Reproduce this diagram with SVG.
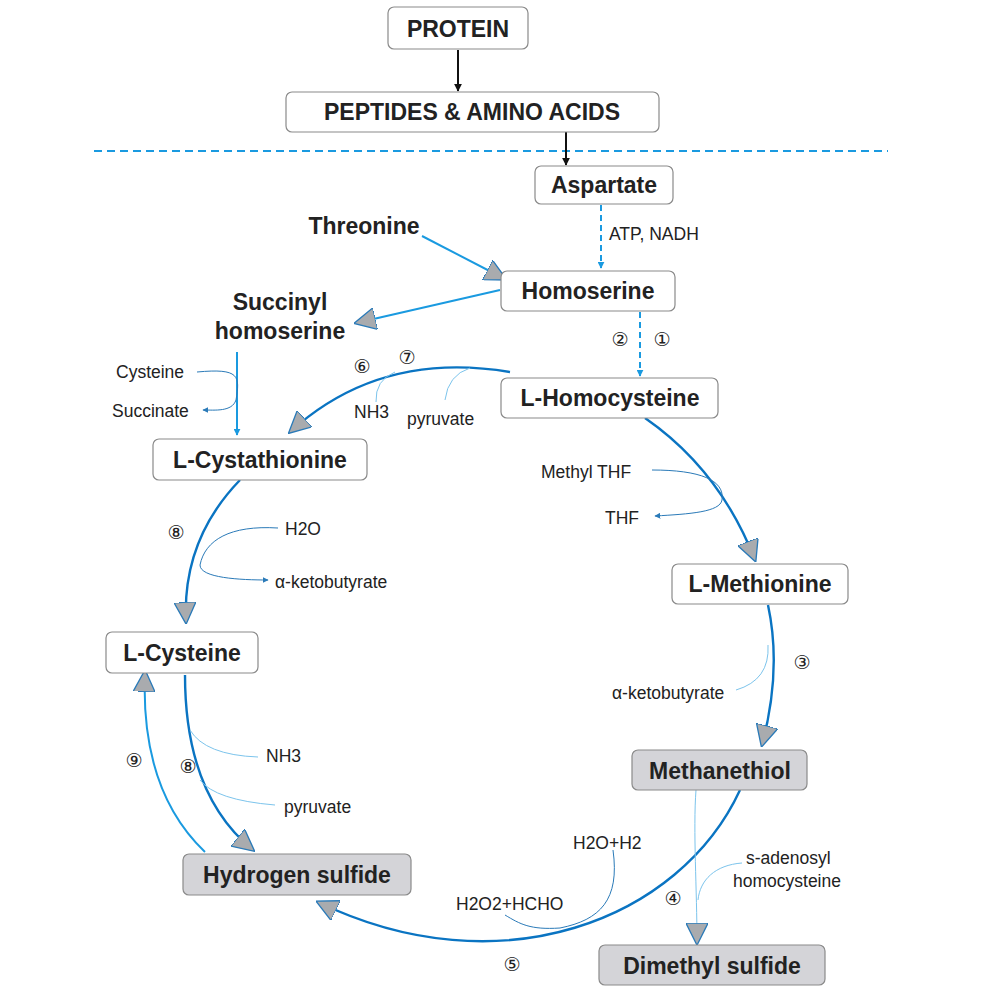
<svg xmlns="http://www.w3.org/2000/svg" width="1008" height="997" viewBox="0 0 1008 997">
<style>
.box{fill:#fff;stroke:#8a8a8a;stroke-width:1.2}
.gbox{fill:#d4d4d8;stroke:#8a8a8a;stroke-width:1.2}
.t{font-family:"Liberation Sans",Arial,sans-serif;font-weight:bold;font-size:23px;fill:#222;text-anchor:middle}
.s{font-family:"Liberation Sans",Arial,sans-serif;font-size:17.5px;fill:#222}
.n{font-family:"DejaVu Sans",sans-serif;font-size:19px;fill:#222;text-anchor:middle}
.main{fill:none;stroke:#0a74c2;stroke-width:2.4}
.lb{fill:none;stroke:#1a9ae0;stroke-width:2}
.thin{fill:none;stroke:#2a7ab8;stroke-width:1}
.thinl{fill:none;stroke:#7cc4ec;stroke-width:1}
</style>
<defs>
<marker id="tri" viewBox="0 0 10 10" refX="9" refY="5" markerWidth="22" markerHeight="22" markerUnits="userSpaceOnUse" orient="auto"><path d="M0,0 L10,5 L0,10 Z" fill="#a9abae" stroke="#2a7ab8" stroke-width="0.6"/></marker>
<marker id="blk" viewBox="0 0 10 10" refX="9" refY="5" markerWidth="8" markerHeight="8" markerUnits="userSpaceOnUse" orient="auto"><path d="M0,0 L10,5 L0,10 Z" fill="#111"/></marker>
<marker id="bl" viewBox="0 0 10 10" refX="9" refY="5" markerWidth="7" markerHeight="7" markerUnits="userSpaceOnUse" orient="auto"><path d="M0,0 L10,5 L0,10 Z" fill="#1a9ae0"/></marker>
<marker id="sm" viewBox="0 0 10 10" refX="9" refY="5" markerWidth="6" markerHeight="6" markerUnits="userSpaceOnUse" orient="auto"><path d="M0,0 L10,5 L0,10 Z" fill="#2a7ab8"/></marker>
</defs>
<g id="connectors">
<line x1="94" y1="151" x2="888" y2="151" stroke="#1a9ae0" stroke-width="2" stroke-dasharray="8,5"/>
<line x1="458" y1="50" x2="458" y2="91" stroke="#111" stroke-width="2" marker-end="url(#blk)"/>
<line x1="566" y1="132" x2="566" y2="165" stroke="#111" stroke-width="2" marker-end="url(#blk)"/>
<line x1="601" y1="205" x2="601" y2="268" stroke="#1a9ae0" stroke-width="2" stroke-dasharray="6,4" marker-end="url(#bl)"/>
<line x1="640" y1="312" x2="640" y2="376" stroke="#1a9ae0" stroke-width="2" stroke-dasharray="6,4" marker-end="url(#bl)"/>
<line x1="422" y1="236" x2="505" y2="279" class="lb" marker-end="url(#tri)"/>
<line x1="500" y1="290" x2="356" y2="323" class="lb" marker-end="url(#tri)"/>
<line x1="237" y1="352" x2="237" y2="435" class="lb" marker-end="url(#bl)"/>
<path d="M197 372 C240 368 240 376 236 400 C232 412 215 410 203 410" class="thin" marker-end="url(#sm)"/>
<path class="main" d="M510 372 Q380 350 290 432" marker-end="url(#tri)"/>
<path class="thinl" d="M376 402 Q375 380 395 372"/>
<path class="thinl" d="M445 400 Q448 375 470 368"/>
<path class="main" d="M645 418 Q720 470 755 560" marker-end="url(#tri)"/>
<path class="thin" d="M652 470 C700 470 725 480 722 500 C720 512 690 514 655 516" marker-end="url(#sm)"/>
<path class="main" d="M768 605 Q782 670 762 745" marker-end="url(#tri)"/>
<path class="thinl" d="M736 690 Q770 680 768 645"/>
<path class="main" d="M740 790 C680 920 500 990 318 902" marker-end="url(#tri)"/>
<path class="thin" d="M613 850 C620 900 600 920 560 928 C530 930 520 924 505 915"/>
<path class="thinl" d="M696 790 C693 830 697 890 697 943" marker-end="url(#tri)"/>
<path class="thinl" d="M742 863 C715 865 700 880 698 900"/>
<path class="main" d="M240 480 Q182 540 186 622" marker-end="url(#tri)"/>
<path class="thin" d="M278 528 C230 525 205 540 200 565 C200 578 240 580 268 580" marker-end="url(#sm)"/>
<path class="main" d="M185 675 Q185 795 253 850" marker-end="url(#tri)"/>
<path class="thinl" d="M190 730 Q205 755 258 757"/>
<path class="thinl" d="M200 780 Q215 800 275 805"/>
<path class="lb" d="M205 852 Q140 790 145 672" marker-end="url(#tri)"/>
</g>
<g id="protein"><rect class="box" x="388" y="7" width="140" height="42" rx="6"/><text class="t" x="458" y="37">PROTEIN</text></g>
<g id="peptides"><rect class="box" x="286" y="92" width="373" height="40" rx="6"/><text class="t" x="472" y="120">PEPTIDES &amp; AMINO ACIDS</text></g>
<g id="aspartate"><rect class="box" x="535" y="166" width="138" height="38" rx="6"/><text class="t" x="604" y="193">Aspartate</text></g>
<text class="s" x="609" y="240">ATP, NADH</text>
<g id="threonine"><text class="t" x="364" y="234">Threonine</text></g>
<g id="homoserine"><rect class="box" x="501" y="271" width="174" height="40" rx="6"/><text class="t" x="588" y="299">Homoserine</text></g>
<g id="succinyl"><text class="t" x="280" y="310">Succinyl</text><text class="t" x="280" y="339">homoserine</text></g>
<text class="n" x="620" y="346">②</text><text class="n" x="662" y="346">①</text>
<text class="n" x="362" y="373">⑥</text><text class="n" x="407" y="364">⑦</text>
<text class="s" x="116" y="378">Cysteine</text>
<text class="s" x="112" y="417">Succinate</text>
<text class="s" x="354" y="418">NH3</text>
<text class="s" x="407" y="425">pyruvate</text>
<g id="homocysteine"><rect class="box" x="501" y="378" width="217" height="40" rx="6"/><text class="t" x="610" y="406">L-Homocysteine</text></g>
<g id="cystathionine"><rect class="box" x="153" y="439" width="214" height="41" rx="6"/><text class="t" x="260" y="468">L-Cystathionine</text></g>
<text class="s" x="541" y="478">Methyl THF</text>
<text class="s" x="605" y="524">THF</text>
<text class="n" x="176" y="539">⑧</text>
<text class="s" x="285" y="535">H2O</text>
<text class="s" x="275" y="588">α-ketobutyrate</text>
<g id="methionine"><rect class="box" x="672" y="564" width="176" height="40" rx="6"/><text class="t" x="760" y="592">L-Methionine</text></g>
<g id="cysteine"><rect class="box" x="106" y="632" width="152" height="41" rx="6"/><text class="t" x="182" y="661">L-Cysteine</text></g>
<text class="n" x="802" y="669">③</text>
<text class="s" x="612" y="699">α-ketobutyrate</text>
<text class="n" x="134" y="767">⑨</text><text class="n" x="188" y="773">⑧</text>
<text class="s" x="266" y="762">NH3</text>
<text class="s" x="284" y="813">pyruvate</text>
<g id="methanethiol"><rect class="gbox" x="632" y="750" width="175" height="40" rx="6"/><text class="t" x="720" y="779">Methanethiol</text></g>
<text class="s" x="573" y="849">H2O+H2</text>
<text class="s" x="746" y="864">s-adenosyl</text>
<text class="s" x="733" y="887">homocysteine</text>
<g id="h2s"><rect class="gbox" x="183" y="854" width="228" height="41" rx="6"/><text class="t" x="297" y="883">Hydrogen sulfide</text></g>
<text class="s" x="456" y="910">H2O2+HCHO</text>
<text class="n" x="673" y="905">④</text>
<text class="n" x="512" y="971">⑤</text>
<g id="dms"><rect class="gbox" x="599" y="945" width="226" height="40" rx="6"/><text class="t" x="712" y="974">Dimethyl sulfide</text></g>
</svg>
